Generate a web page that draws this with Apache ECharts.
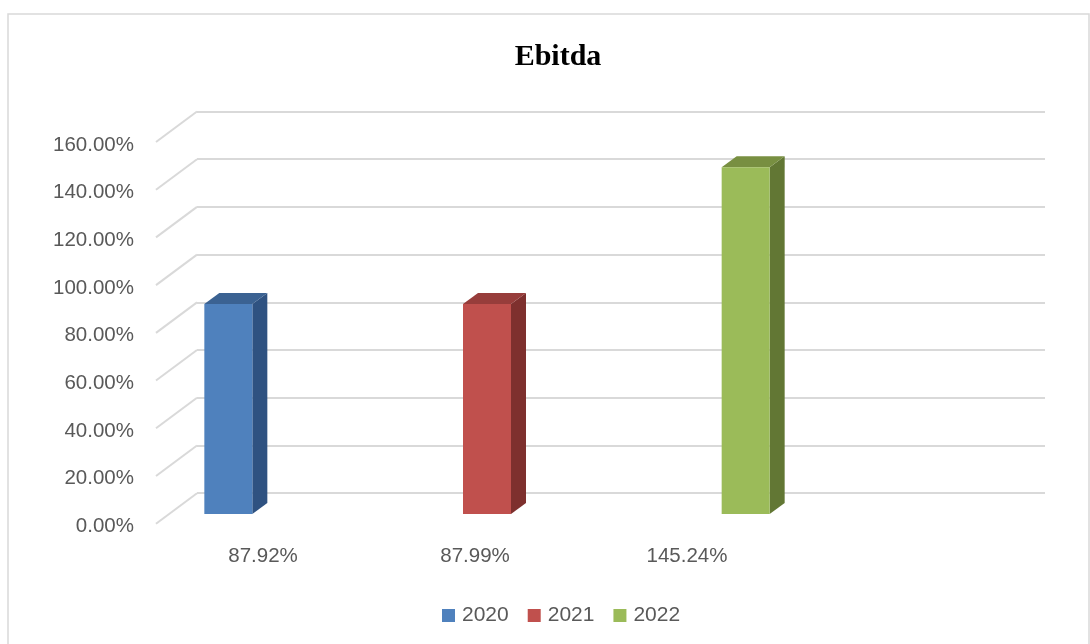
<!DOCTYPE html>
<html>
<head>
<meta charset="utf-8">
<script src="https://cdn.jsdelivr.net/npm/echarts@6/dist/echarts.min.js"></script>
<style>html,body{margin:0;padding:0;background:#fff;}#c{width:1090px;height:644px;}</style>
</head>
<body>
<div id="c"></div>
<script>
// ---- data ----
var TITLE = 'Ebitda';
var SERIES_NAMES = ['2020', '2021', '2022'];
var VALUES_2020 = [87.92];
var VALUES_2021 = [87.99];
var VALUES_2022 = [145.24];
var CATEGORY_LABELS = ['87.92%', '87.99%', '145.24%', ''];
var Y_TICKS = [0, 20, 40, 60, 80, 100, 120, 140, 160];

// ---- style ----
var COLORS = [
  {front: '#4f81bd', top: '#3b6292', side: '#2f5281'},
  {front: '#c0504d', top: '#973d3b', side: '#7e302e'},
  {front: '#9bbb59', top: '#788f41', side: '#627734'}
];
var DEPTH_DX = -41, DEPTH_DY = 30.5;   // back wall -> front plane
var BAR_DX = 15, BAR_DY = -11;         // bar depth
var GRID_COLOR = '#d9d9d9';
var TEXT_COLOR = '#595959';

var chart = echarts.init(document.getElementById('c'), null, {renderer: 'canvas'});

function barRender(ci) {
  return function (params, api) {
    var base = api.coord([api.value(0), 0]);
    var top = api.coord([api.value(0), api.value(1)]);
    var w = 48;
    var x0 = base[0] - w / 2, x1 = base[0] + w / 2;
    var yb = base[1], yt = top[1];
    var c = COLORS[ci];
    return {
      type: 'group',
      children: [
        {type: 'polygon', shape: {points: [[x1, yt], [x1, yb], [x1 + BAR_DX, yb + BAR_DY], [x1 + BAR_DX, yt + BAR_DY]]}, style: {fill: c.side}},
        {type: 'polygon', shape: {points: [[x0, yt], [x1, yt], [x1 + BAR_DX, yt + BAR_DY], [x0 + BAR_DX, yt + BAR_DY]]}, style: {fill: c.top}},
        {type: 'rect', shape: {x: x0, y: yt, width: w, height: yb - yt}, style: {fill: c.front}}
      ]
    };
  };
}

var barData = [VALUES_2020, VALUES_2021, VALUES_2022];
var barSeries = SERIES_NAMES.map(function (name, i) {
  return {
    name: name,
    type: 'custom',
    xAxisIndex: 2, yAxisIndex: 2,
    itemStyle: {color: COLORS[i].front},
    renderItem: barRender(i),
    data: barData[i].map(function (v) { return [name, v]; }),
    z: 5
  };
});

var option = {
  animation: false,
  backgroundColor: '#ffffff',
  title: {
    text: TITLE, left: 553, textAlign: 'center', top: 37,
    textStyle: {fontFamily: 'Liberation Serif', fontWeight: 'bold', fontSize: 30, color: '#000'}
  },
  legend: {
    data: SERIES_NAMES, bottom: 13, left: 437,
    icon: 'rect', itemWidth: 13, itemHeight: 13, itemGap: 19,
    textStyle: {fontFamily: 'Liberation Sans', fontSize: 21, color: TEXT_COLOR, padding: [0, 0, 0, 2]}
  },
  graphic: [{
    type: 'rect', shape: {x: 8, y: 14, width: 1081, height: 700},
    style: {fill: 'none', stroke: GRID_COLOR, lineWidth: 1.5}, z: -10
  }],
  grid: [
    {left: 197, right: 45, top: 111.5, bottom: 150.8},   // back wall
    {left: 157, right: 85, top: 145, bottom: 117.5},     // front plane (labels)
    {left: 99, right: 215, top: 132, bottom: 130}        // bar front faces
  ],
  xAxis: [
    {gridIndex: 0, type: 'value', min: 0, max: 1, show: false},
    {gridIndex: 1, type: 'category', data: CATEGORY_LABELS,
      axisLine: {show: false}, axisTick: {show: false},
      axisLabel: {margin: 19, fontFamily: 'Liberation Sans', fontSize: 20.5, color: TEXT_COLOR}},
    {gridIndex: 2, type: 'category', data: SERIES_NAMES, show: false}
  ],
  yAxis: [
    {gridIndex: 0, type: 'value', min: 0, max: 160, interval: 20,
      axisLine: {show: false}, axisTick: {show: false}, axisLabel: {show: false},
      splitLine: {lineStyle: {color: GRID_COLOR, width: 2}}},
    {gridIndex: 1, type: 'value', min: 0, max: 160, interval: 20,
      axisLine: {show: false}, axisTick: {show: false}, splitLine: {show: false},
      axisLabel: {margin: 23, fontFamily: 'Liberation Sans', fontSize: 20.5, color: TEXT_COLOR,
        formatter: function (v) { return v.toFixed(2) + '%'; }}},
    {gridIndex: 2, type: 'value', min: 0, max: 160, show: false}
  ],
  series: [{
    name: 'walls', type: 'custom', xAxisIndex: 0, yAxisIndex: 0,
    silent: true, z: 1,
    renderItem: function (params, api) {
      var p = api.coord([0, api.value(0)]);
      return {type: 'line', shape: {x1: p[0], y1: p[1], x2: p[0] + DEPTH_DX, y2: p[1] + DEPTH_DY},
        style: {stroke: GRID_COLOR, lineWidth: 2}};
    },
    data: Y_TICKS.map(function (t) { return [t]; })
  }].concat(barSeries)
};
chart.setOption(option);
</script>
</body>
</html>
